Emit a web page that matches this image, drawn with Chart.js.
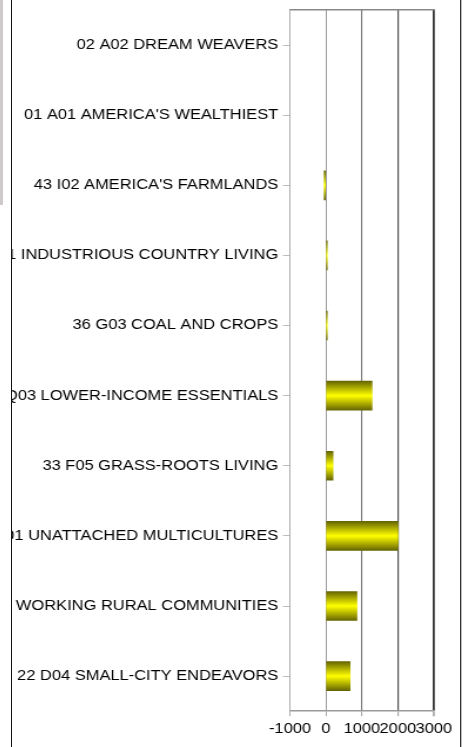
<!DOCTYPE html>
<html>
<head>
<meta charset="utf-8">
<script src="https://cdn.jsdelivr.net/npm/chart.js@4/dist/chart.umd.min.js"></script>
<style>
    html, body { margin: 0; padding: 0; background: #fff; width: 472px; height: 747px; overflow: hidden; }
    #strip { position: absolute; left: 0; top: 0; width: 3px; height: 205px; background: #cfcaca; }
    #frameLeft { position: absolute; left: 11px; top: 0; width: 1px; height: 747px; background: #111; }
    #frameRight { position: absolute; left: 460px; top: 0; width: 1px; height: 747px; background: #333; }
    #frameRight2 { position: absolute; left: 461px; top: 0; width: 1px; height: 747px; background: #bbb; }
    /* Diagrammet är utdraget i sidled i originalet */
    #wrap { position: absolute; left: 12px; top: 0; width: 382px; height: 747px; transform: scaleX(1.175); transform-origin: 0 0; }
</style>
</head>
<body>
<div id="strip"></div>
<div id="frameLeft"></div>
<div id="frameRight"></div>
<div id="frameRight2"></div>
<div id="wrap"><canvas id="segChart" width="382" height="747"></canvas></div>

<script>
// Kategorier uppifrån och ner
const segments = [
    '02 A02 DREAM WEAVERS',
    "01 A01 AMERICA'S WEALTHIEST",
    "43 I02 AMERICA'S FARMLANDS",
    '42 I01 INDUSTRIOUS COUNTRY LIVING',
    '36 G03 COAL AND CROPS',
    '47 Q03 LOWER-INCOME ESSENTIALS',
    '33 F05 GRASS-ROOTS LIVING',
    '49 O01 UNATTACHED MULTICULTURES',
    '38 H02 WORKING RURAL COMMUNITIES',
    '22 D04 SMALL-CITY ENDEAVORS'
];

// Värden
const values = [0, 0, -50, 35, 35, 1280, 195, 2000, 860, 670];

// X-axelns skala
const xMin = -1000;
const xMax = 3000;
const xStep = 1000;

// Rutnätet blir mörkare åt höger
const gridColors = ['#a8a8a8', '#9a9a9a', '#7a7a7a', '#555555', '#333333'];
const gridWidths = [1, 1, 1.1, 1.2, 1.8];

function barGradient(context) {
    // Nollvärden ska inte synas alls
    if (context.raw === 0) return 'rgba(0,0,0,0)';
    const chart = context.chart;
    if (!chart.chartArea) return '#dddd00';
    const yc = chart.scales.y.getPixelForValue(context.dataIndex);
    const g = chart.ctx.createLinearGradient(0, yc - 14.5, 0, yc + 14.5);
    g.addColorStop(0, '#666600');
    g.addColorStop(0.5, '#ffff00');
    g.addColorStop(1, '#666600');
    return g;
}

const font = { family: '"Liberation Sans", Arial, sans-serif', size: 14 };

new Chart(document.getElementById('segChart').getContext('2d'), {
    type: 'bar',
    data: {
        labels: segments,
        datasets: [{
            data: values,
            backgroundColor: barGradient,
            borderWidth: 0,
            barThickness: 29
        }]
    },
    options: {
        indexAxis: 'y',
        responsive: false,
        animation: false,
        devicePixelRatio: 1,
        layout: { padding: { left: 0, right: 23, top: 10, bottom: 4 } },
        plugins: {
            legend: { display: false },
            tooltip: { enabled: false }
        },
        scales: {
            x: {
                min: xMin,
                max: xMax,
                ticks: {
                    stepSize: xStep,
                    autoSkip: false,
                    maxRotation: 0,
                    minRotation: 0,
                    padding: 5,
                    color: '#000',
                    font: font,
                    callback: v => String(v)
                },
                grid: {
                    color: c => gridColors[c.index] || '#999',
                    lineWidth: c => gridWidths[c.index] || 1,
                    tickColor: '#aaa',
                    tickLength: 5
                },
                border: { color: '#999', width: 1.5 }
            },
            xTop: {
                position: 'top',
                min: xMin,
                max: xMax,
                ticks: { display: false },
                grid: { display: false, drawTicks: false },
                border: { display: true, color: '#888', width: 1.5 }
            },
            y: {
                // Fast bredd så att långa etiketter klipps vid vänsterkanten
                afterFit: scale => {
                    scale.width = 236.6;
                    scale.paddingTop = 0;
                    scale.paddingBottom = 0;
                },
                ticks: {
                    padding: 4,
                    color: '#000',
                    font: font,
                    autoSkip: false
                },
                grid: {
                    drawOnChartArea: false,
                    tickLength: 6,
                    tickColor: '#bbb',
                    offset: false
                },
                border: { color: '#aaa', width: 1 }
            }
        }
    }
});
</script>
</body>
</html>
